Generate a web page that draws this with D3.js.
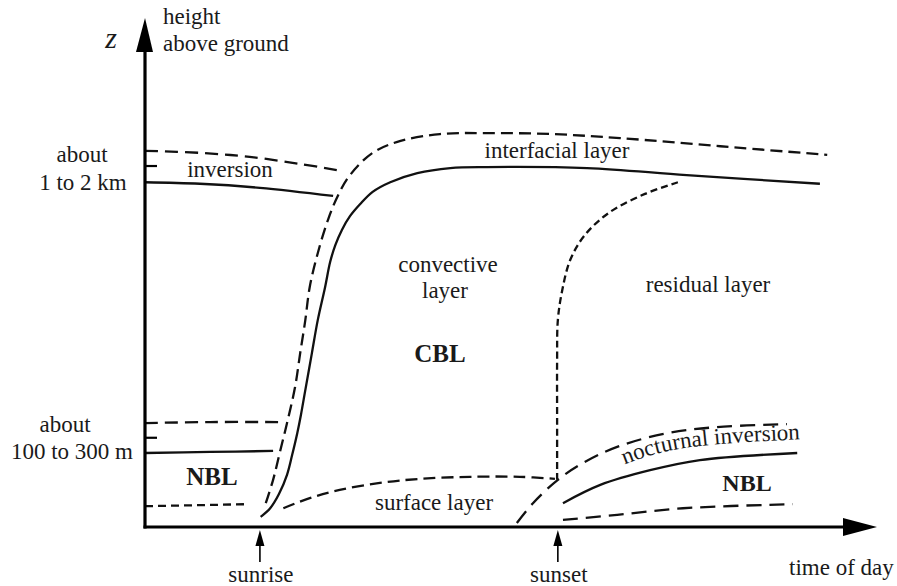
<!DOCTYPE html>
<html>
<head>
<meta charset="utf-8">
<script src="https://cdn.jsdelivr.net/npm/d3@7/dist/d3.min.js"></script>
<style>
  html, body { margin: 0; padding: 0; background: #fff; }
  svg text { font-family: "Liberation Serif", "Times New Roman", serif; fill: #1a1a1a; }
</style>
</head>
<body>
<svg id="chart" width="897" height="586"></svg>
<script>
// ---- data: time (0..100 of axis length) vs height (0..100 of axis length) ----
const inversionTop   = [[0,74.2],[7.5,73.8],[14.3,73.0],[21.2,71.6],[26.2,70.4]];
const inversionBase  = [[0,68.0],[7.5,67.7],[15.7,66.9],[25.7,65.3]];
const mixedLayerTop  = [[15.8,2.0],[17.1,3.7],[18.3,6.5],[19.4,10.3],[20.1,14.2],[20.8,18.5],[21.3,22.1],[21.9,27.0],[22.8,34.3],[23.6,40.8],[24.6,47.3],[25.3,52.3],[26.0,55.6],[26.9,58.6],[28.0,61.3],[29.4,63.7],[31.1,66.1],[33.5,68.0],[37.2,69.8],[41.7,70.8],[46.7,71.0],[60.4,70.8],[74.0,69.4],[92.2,67.7]];
const entrainmentTop = [[16.5,4.7],[17.5,9.3],[18.4,14.6],[19.5,21.1],[20.5,27.6],[21.2,34.3],[21.9,40.8],[22.5,47.3],[23.6,54.0],[25.0,60.6],[26.4,65.5],[28.0,69.4],[31.1,73.8],[34.8,76.1],[40.3,77.5],[46.7,77.7],[55.7,77.5],[64.9,76.7],[78.6,75.1],[93.2,73.4]];
const nblLeftTop     = [[0,20.5],[8.9,20.7],[18.4,20.7]];
const nblLeftInv     = [[0,14.6],[8.9,14.8],[17.5,15.0]];
const nblLeftSurface = [[0,4.1],[14.1,4.5]];
const surfaceLayer   = [[18.9,3.7],[22.5,5.7],[26.6,7.3],[32.1,8.7],[37.6,9.5],[44.4,9.9],[51.2,9.9],[56.0,9.5]];
const residualEdge   = [[56.3,9.3],[56.3,21.1],[56.3,32.9],[56.4,40.8],[57.0,46.7],[58.1,52.7],[60.1,57.6],[63.5,62.1],[68.3,65.7],[72.8,68.0]];
const nocturnalTop   = [[50.8,0.8],[53.0,4.7],[56.4,9.3],[59.8,12.6],[64.5,15.8],[71.3,18.5],[78.1,19.7],[87.7,20.3]];
const nocturnalInv   = [[57.1,4.7],[62.2,8.3],[69.0,11.2],[75.8,13.2],[89.1,14.6]];
const nblRightSurface= [[57.1,1.4],[64.5,2.4],[73.5,3.7],[88.5,4.5]];
const yTicks         = [71.2, 17.6];
const timeMarks      = [[15.7,"sunrise"],[56.4,"sunset"]];
const nocturnalLabelPath = [[65.5,12.3],[72.5,16.1],[89.5,17.3]];

// ---- scales ----
const x = d3.scaleLinear().domain([0,100]).range([145,877]);
const y = d3.scaleLinear().domain([0,100]).range([527,20]);

const svg = d3.select("#chart");
svg.append("rect").attr("width",897).attr("height",586).attr("fill","#fff");

const line = d3.line().x(d=>x(d[0])).y(d=>y(d[1])).curve(d3.curveCatmullRom.alpha(0.5));

const curves = [
  {d: inversionTop,    dash: "13,7"},
  {d: inversionBase,   dash: null},
  {d: mixedLayerTop,   dash: null},
  {d: entrainmentTop,  dash: "12,6"},
  {d: nblLeftTop,      dash: "13,7"},
  {d: nblLeftInv,      dash: null},
  {d: nblLeftSurface,  dash: "8,5"},
  {d: surfaceLayer,    dash: "12,6"},
  {d: residualEdge,    dash: "7,4"},
  {d: nocturnalTop,    dash: "15,8"},
  {d: nocturnalInv,    dash: null},
  {d: nblRightSurface, dash: "15,8"}
];
svg.append("g").selectAll("path").data(curves).join("path")
  .attr("d", c => line(c.d))
  .attr("fill","none").attr("stroke","#111").attr("stroke-width",2.3)
  .attr("stroke-dasharray", c => c.dash);

// ---- axes ----
const ax = svg.append("g").attr("stroke","#000").attr("fill","#000");
ax.append("line").attr("x1",x(0)).attr("x2",x(0)).attr("y1",y(0)+1.5).attr("y2",52).attr("stroke-width",3.2);
ax.append("path").attr("d",`M${x(0)},18 L${x(0)-9},52 L${x(0)+8},52 Z`).attr("stroke","none");
ax.append("line").attr("x1",x(0)-1.5).attr("x2",845).attr("y1",y(0)).attr("y2",y(0)).attr("stroke-width",3.2);
ax.append("path").attr("d",`M${x(100)},${y(0)} L843,${y(0)-9} L843,${y(0)+9} Z`).attr("stroke","none");
ax.selectAll("line.tick").data(yTicks).join("line").attr("class","tick")
  .attr("x1",x(0)).attr("x2",x(0)+12).attr("y1",d=>y(d)).attr("y2",d=>y(d)).attr("stroke-width",2.2);

// sunrise / sunset arrows
const tm = svg.append("g").selectAll("g").data(timeMarks).join("g");
tm.append("line").attr("x1",d=>x(d[0])).attr("x2",d=>x(d[0])).attr("y1",544).attr("y2",562)
  .attr("stroke","#000").attr("stroke-width",1.6);
tm.append("path").attr("d",d=>`M${x(d[0])},530 L${x(d[0])-4.5},546 L${x(d[0])+4.5},546 Z`).attr("fill","#000");
tm.append("text").attr("x",d=>x(d[0])+1).attr("y",582).attr("text-anchor","middle")
  .attr("font-size",23).text(d=>d[1]);

// ---- labels ----
function label(t, px, py, opts={}) {
  const el = svg.append("text").attr("x",px).attr("y",py)
    .attr("text-anchor", opts.anchor || "middle")
    .attr("font-size", opts.size || 23)
    .text(t);
  if (opts.bold) el.attr("font-weight","bold");
  if (opts.italic) el.attr("font-style","italic");
  return el;
}
label("z", 111, 48, {size: 30, italic: true});
label("height", 163, 24, {anchor: "start"});
label("above ground", 163, 51, {anchor: "start"});
label("about", 82, 162);
label("1 to 2 km", 83, 190);
label("about", 65, 432);
label("100 to 300 m", 72, 459);
label("inversion", 230, 177);
label("interfacial layer", 557, 158);
label("convective", 448, 272);
label("layer", 445, 298);
label("CBL", 440, 362, {bold: true, size: 25});
label("residual layer", 708, 292);
label("NBL", 212, 485, {bold: true, size: 25});
label("surface layer", 434, 510);
label("NBL", 747, 491, {bold: true, size: 24});
label("time of day", 789, 575, {anchor: "start"});

// curved "nocturnal inversion" label
const labelLine = d3.line().x(d=>x(d[0])).y(d=>y(d[1])).curve(d3.curveBasis);
svg.append("path").attr("id","nocPath").attr("d", labelLine(nocturnalLabelPath))
  .attr("fill","none").attr("stroke","none");
svg.append("text").attr("font-size",23)
  .append("textPath").attr("href","#nocPath").attr("startOffset","50%")
  .attr("text-anchor","middle").text("nocturnal inversion");
</script>
</body>
</html>
